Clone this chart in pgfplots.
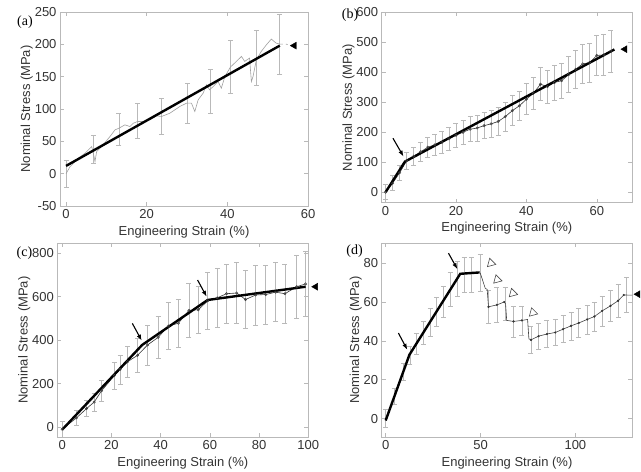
\documentclass[border=0pt]{standalone}
\usepackage{fontspec}
\setmainfont{Liberation Sans}
\newfontfamily\serif{Liberation Serif}
\usepackage{pgfplots}
\pgfplotsset{compat=1.18}
\usetikzlibrary{arrows.meta}

\pgfplotsset{
  panel/.style={
    scale only axis,
    anchor=south west,
    axis line style={gray!55, line width=0.6pt},
    tick style={gray!55, line width=0.5pt},
    tick align=inside,
    major tick length=4pt,
    ticklabel style={font=\fontsize{13}{15}\selectfont, text=black!80},
    label style={font=\fontsize{13}{15}\selectfont, text=black!80},
    ylabel style={yshift=-5pt},
    /pgf/number format/assume math mode=true,
    xlabel={Engineering Strain (\%)},
    ylabel={Nominal Stress (MPa)},
    clip=false,
  },
  fit/.style={black, line width=2.4pt},
  meas/.style={gray!75, line width=0.6pt},
  circ/.style={gray!40!black, line width=0.6pt, mark=o, mark size=1.2pt, mark options={black!75, line width=0.5pt}},
  ebar/.style={draw=none, mark=none,
    error bars/.cd, y dir=both, y explicit,
    error bar style={draw=gray!55, line width=0.7pt},
    error mark options={draw=gray!55, line width=0.7pt, mark size=2.5pt, rotate=90}},
  endmark/.style={only marks, mark=triangle*, mark size=4pt, black,
    mark options={rotate=90}},
}

\begin{document}
\begin{tikzpicture}
\path[use as bounding box] (0,0) rectangle (641pt,472pt);

% (a)
\begin{axis}[panel, at={(60pt,266pt)}, width=248pt, height=194pt,
  xmin=-1.5, xmax=60, ymin=-50, ymax=250,
  xtick={0,20,40,60}, ytick={-50,0,50,100,150,200,250}]
\addplot[ebar] table[x=x, y=y, y error=e] {
x y e
0 0 21
6.8 38 22
13.1 69 25
17.7 81 27
23.7 89 28
30.1 109 31
35.8 128 34
40.8 165 41
47.2 179 43
53.0 200 47
};
\addplot[meas] table {
x y
0 0
1.0 10.9
3.05 23.8
4.7 31.6
6.35 41.9
6.77 31.6
7.18 18.7
7.59 34.2
8.83 41.9
10.89 57.4
12.13 67.7
13.12 70.3
14.6 75.5
15.84 72.9
16.67 78.0
17.74 80.6
19.14 80.6
20.79 83.2
22.44 89.4
23.68 88.4
25.74 93.5
28.22 103.9
29.87 109.0
31.1 109
31.93 96.1
32.76 114.2
34.0 124.5
34.8 137.4
35.6 129.7
36.5 134.8
37.7 142.6
38.5 132.2
39.4 150.3
40.76 164.8
41.8 171.0
43.5 181.3
44.3 173.6
45.5 178.7
45.96 142.6
46.37 150.3
47.2 176.1
48.4 189.0
49.7 199.4
50.9 208.1
52.1 201.9
53.0 200.4
};
\addplot[meas, dashed] coordinates {(53,200.4) (55,200)};
\addplot[fit] coordinates {(0,12) (53,198)};
\addplot[endmark] coordinates {(56.6,198)};
\end{axis}

% (b)
\begin{axis}[panel, at={(381.7pt,269.3pt)}, width=250.3pt, height=190.4pt,
  xmin=-1.1, xmax=70, ymin=-35, ymax=600,
  xtick={0,20,40,60}, ytick={0,100,...,600}]
\addplot[ebar] table[x=x, y=y, y error=e] {
x y e
0 0 25
2 30 25
4 65 26
6 105 28
8 120 30
10 135 32
12 150 34
14 158 35
16 166 36
18 178 38
20 190 40
22 200 41
24 210 42
26 214 43
28 222 44
30 228 45
32 236 46
34 252 48
36 272 50
38 288 50
40 310 52
42 330 53
44 360 55
46 352 56
48 366 58
50 372 58
52 392 60
54 410 62
56 428 64
58 432 65
60 456 67
62 458 68
64 470 70
};
\addplot[circ] table {
x y
0 0
2 30
4 65
6 105
8 120
10 135
12 150
14 158
16 166
18 178
20 190
22 200
24 210
26 214
28 222
30 228
32 236
34 252
36 272
38 288
40 310
42 330
44 360
46 352
48 366
50 372
52 392
54 410
56 428
58 432
60 456
62 458
64 470
};
\addplot[fit] coordinates {(0,0) (5.5,102) (65,476)};
\addplot[endmark] coordinates {(68,477)};
\draw[-{Latex[length=6pt,width=4.5pt]}, line width=1.1pt] (2.1,180) -- (5.1,119);
\end{axis}

% (c)
\begin{axis}[panel, at={(57.3pt,35pt)}, width=251pt, height=193.7pt,
  xmin=-2, xmax=100, ymin=-46, ymax=846,
  xtick={0,20,...,100}, ytick={0,200,...,800}]
\addplot[ebar] table[x=x, y=y, y error=e] {
x y e
0 -10 38
5.8 42 36
9.9 85 36
13 115 42
16 167 50
21.2 237 63
23.5 265 67
26.6 301 72
30.6 330 77
34.7 378 92
39 413 97
43.1 465 107
47.2 478 110
51.5 537 124
55.3 540 109
59.1 581 131
63 595 136
66.8 614 137
70.9 617 140
74.5 587 133
78.6 608 138
82.7 610 136
86.7 621 136
90.5 614 137
95.3 646 146
98.9 659 148
};
\addplot[circ] table {
x y
0 -10
5.8 42
9.9 85
13 115
16 167
21.2 237
23.5 265
26.6 301
30.6 330
34.7 378
39 413
43.1 465
47.2 478
51.5 537
55.3 540
59.1 581
63 595
66.8 614
70.9 617
74.5 587
78.6 608
82.7 610
86.7 621
90.5 614
95.3 646
98.9 659
};
\addplot[fit] coordinates {(0,-12) (32.5,378) (59.1,585) (98.9,646)};
\addplot[endmark] coordinates {(103,646)};
\draw[-{Latex[length=6pt,width=4.5pt]}, line width=1.1pt] (28.5,477) -- (32.3,398);
\draw[-{Latex[length=6pt,width=4.5pt]}, line width=1.1pt] (55,677) -- (58.7,600);
\end{axis}

% (d)
\begin{axis}[panel, at={(381.7pt,35pt)}, width=250.6pt, height=193.7pt,
  xmin=-2.1, xmax=130, ymin=-9.5, ymax=90.2,
  xtick={0,50,100}, ytick={0,20,...,80}]
\addplot[ebar] table[x=x, y=y, y error=e] {
x y e
0 0 4.7
4.5 11.5 4
9.3 24 4.5
12.8 32.5 4.5
16.4 38.5 5.5
19.9 44 6
23.4 49.5 7
26.9 55 7.5
30.4 60 8
34.0 66.5 9
37.8 72 9
41.4 74 9
45.4 74 9
49.8 75 9.5
54.2 57.5 8.5
58.6 58.5 9
63.0 59 8.5
67.4 50 8
71.8 50.5 7.5
76.6 40.5 7
80.6 42.4 6.7
85 43.5 6.9
89.4 44.3 6.7
93.5 46 6.9
97.7 47.7 7.2
101.8 49.2 7.5
106.2 51 7.5
110 52.5 7.5
114.1 55.4 7.7
118.5 58 8.2
122.5 60.6 8.6
127 63.6 9
};
\addplot[meas, gray!50!black] table {
x y
49.8 75
52.5 67
53.5 66.5
54.2 57.5
58.6 58.5
62.5 60
63.2 59
63.8 50.5
67.4 50
71.8 50.5
74.8 51
75.5 41
76.6 40.5
80.6 42.4
85 43.5
89.4 44.3
93.5 46
97.7 47.7
101.8 49.2
106.2 51
110 52.5
114.1 55.4
118.5 58
122.5 60.6
125.5 63.6
130 63.5
};
\addplot[only marks, mark=*, mark size=0.9pt, black!80] table {
x y
54.2 57.5
58.6 58.5
62.5 60
67.4 50
71.8 50.5
76.6 40.5
80.6 42.4
85 43.5
89.4 44.3
93.5 46
97.7 47.7
101.8 49.2
106.2 51
110 52.5
114.1 55.4
118.5 58
122.5 60.6
125.5 63.6
};
\addplot[only marks, mark=triangle, mark size=5pt, mark options={rotate=135, gray!60!black, fill=white, line width=0.6pt}] coordinates {(55.5,80) (58.8,71.5) (67,64.5) (77.6,54.5)};
\addplot[fit] coordinates {(0,-1) (12.5,32.8) (39.3,74.5) (49.5,75.2)};
\addplot[endmark] coordinates {(133,64)};
\draw[-{Latex[length=6pt,width=4.5pt]}, line width=1.1pt] (6.7,44) -- (11.4,35.4);
\draw[-{Latex[length=6pt,width=4.5pt]}, line width=1.1pt] (33.1,85.1) -- (37.8,76.9);
\end{axis}

\node[font=\serif\fontsize{14}{16}\selectfont] at (25pt,450pt) {(a)};
\node[font=\serif\fontsize{14}{16}\selectfont] at (350pt,457pt) {(b)};
\node[font=\serif\fontsize{14}{16}\selectfont] at (24.5pt,219pt) {(c)};
\node[font=\serif\fontsize{14}{16}\selectfont] at (354.5pt,221pt) {(d)};
\end{tikzpicture}
\end{document}
